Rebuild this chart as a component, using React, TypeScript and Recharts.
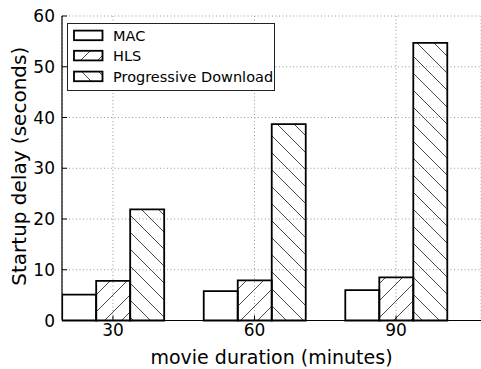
import React from "react";
import {
  BarChart,
  Bar,
  XAxis,
  YAxis,
  CartesianGrid,
  Legend,
} from "recharts";

const durations = [30, 60, 90];
const macDelay = [5.1, 5.8, 6.0];
const hlsDelay = [7.8, 7.9, 8.5];
const progressiveDelay = [21.9, 38.7, 54.7];
const yTicks = [0, 10, 20, 30, 40, 50, 60];
const seriesNames = ["MAC", "HLS", "Progressive Download"];

const FONT = "'DejaVu Sans', sans-serif";
const HATCH = 17;

const data = durations.map((d, i) => ({
  duration: d,
  mac: macDelay[i],
  hls: hlsDelay[i],
  progressive: progressiveDelay[i],
}));

// matplotlib-ish hatch patterns
function Hatches({ prefix }: { prefix: string }) {
  return (
    <defs>
      <pattern
        id={`${prefix}-fwd`}
        patternUnits="userSpaceOnUse"
        width={HATCH}
        height={HATCH}
      >
        <path
          d={`M0,${HATCH} L${HATCH},0 M-2,2 L2,-2 M${HATCH - 2},${HATCH + 2} L${HATCH + 2},${HATCH - 2}`}
          stroke="#333"
          strokeWidth={0.9}
        />
      </pattern>
      <pattern
        id={`${prefix}-back`}
        patternUnits="userSpaceOnUse"
        width={HATCH}
        height={HATCH}
      >
        <path
          d={`M0,0 L${HATCH},${HATCH} M-2,${HATCH - 2} L2,${HATCH + 2} M${HATCH - 2},-2 L${HATCH + 2},2`}
          stroke="#333"
          strokeWidth={0.9}
        />
      </pattern>
    </defs>
  );
}

const fills = ["transparent", "url(#lg-fwd)", "url(#lg-back)"];

function LegendBox() {
  const rows = [12.4, 32.6, 53.4];
  return (
    <svg width={208} height={68} style={{ display: "block" }}>
      <Hatches prefix="lg" />
      <rect x={0.5} y={0.5} width={207} height={67} fill="white" stroke="#222" strokeWidth={1} />
      {seriesNames.map((name, i) => (
        <g key={name}>
          <rect
            x={7}
            y={rows[i] - 4.8}
            width={28.5}
            height={9.6}
            fill={fills[i]}
            stroke="#000"
            strokeWidth={1.8}
          />
          <text
            x={46}
            y={rows[i]}
            dy="0.36em"
            fontSize={14.5}
            fontFamily={FONT}
            fill="#000"
          >
            {name}
          </text>
        </g>
      ))}
    </svg>
  );
}

function YTick(props: any) {
  const { x, y, payload } = props;
  return (
    <g>
      <line x1={x + 7} x2={x + 12} y1={y} y2={y} stroke="#000" strokeWidth={1} />
      <text
        x={x}
        y={y}
        dy="0.36em"
        textAnchor="end"
        fontSize={17}
        fontFamily={FONT}
        fill="#000"
      >
        {payload.value}
      </text>
    </g>
  );
}

function XTick(props: any) {
  const { x, y, payload } = props;
  return (
    <g>
      <line x1={x} x2={x} y1={y - 3} y2={y - 8} stroke="#000" strokeWidth={1} />
      <text
        x={x}
        y={y}
        dy="0.76em"
        textAnchor="middle"
        fontSize={17}
        fontFamily={FONT}
        fill="#000"
      >
        {payload.value}
      </text>
    </g>
  );
}

function TopTick(props: any) {
  const { x, y } = props;
  return <line x1={x} x2={x} y1={y} y2={y + 5} stroke="#000" strokeWidth={1} />;
}

function YLabel(props: any) {
  const { viewBox } = props;
  const cx = 26;
  const cy = viewBox.y + viewBox.height / 2 - 2;
  return (
    <text
      x={cx}
      y={cy}
      transform={`rotate(-90, ${cx}, ${cy})`}
      textAnchor="middle"
      fontSize={20}
      fontFamily={FONT}
      fill="#000"
    >
      Startup delay (seconds)
    </text>
  );
}

export default function App() {
  return (
    <div
      style={{
        position: "absolute",
        left: 0,
        top: 0,
        width: 481,
        height: 369,
        background: "white",
        fontFamily: FONT,
      }}
    >
      <BarChart
        width={481}
        height={369}
        data={data}
        margin={{ top: 16, right: 0, bottom: 0, left: 0 }}
        barGap={0}
        barSize={34}
      >
        <Hatches prefix="bar" />
        <CartesianGrid stroke="#999" strokeDasharray="1 2.5" strokeWidth={1} />
        <XAxis
          dataKey="duration"
          type="number"
          domain={[19.2, 108]}
          ticks={durations}
          allowDataOverflow
          height={48.5}
          tickSize={0}
          tickMargin={3}
          tick={<XTick />}
          axisLine={{ stroke: "#000", strokeWidth: 1.2 }}
          tickLine={false}
          label={{
            value: "movie duration (minutes)",
            position: "insideBottom",
            offset: 5,
            fontSize: 19,
            fontFamily: FONT,
            fill: "#000",
          }}
        />
        <XAxis
          xAxisId="top"
          orientation="top"
          dataKey="duration"
          type="number"
          domain={[19.2, 108]}
          ticks={durations}
          allowDataOverflow
          height={0}
          tickSize={0}
          tickMargin={0}
          tick={<TopTick />}
          axisLine={{ stroke: "#000", strokeWidth: 1.2 }}
          tickLine={false}
        />
        <YAxis
          type="number"
          domain={[0, 60]}
          ticks={yTicks}
          width={62}
          tickSize={0}
          tickMargin={7}
          tick={<YTick />}
          axisLine={{ stroke: "#000", strokeWidth: 1.2 }}
          tickLine={false}
          label={<YLabel />}
        />
        <Bar
          dataKey="mac"
          name={seriesNames[0]}
          fill="transparent"
          stroke="#000"
          strokeWidth={1.8}
          isAnimationActive={false}
        />
        <Bar
          dataKey="hls"
          name={seriesNames[1]}
          fill="url(#bar-fwd)"
          stroke="#000"
          strokeWidth={1.8}
          isAnimationActive={false}
        />
        <Bar
          dataKey="progressive"
          name={seriesNames[2]}
          fill="url(#bar-back)"
          stroke="#000"
          strokeWidth={1.8}
          isAnimationActive={false}
        />
        <Legend
          layout="vertical"
          align="center"
          verticalAlign="middle"
          content={() => <LegendBox />}
          wrapperStyle={{ left: 67, top: 23, width: 208, height: 68 }}
        />
      </BarChart>
    </div>
  );
}
